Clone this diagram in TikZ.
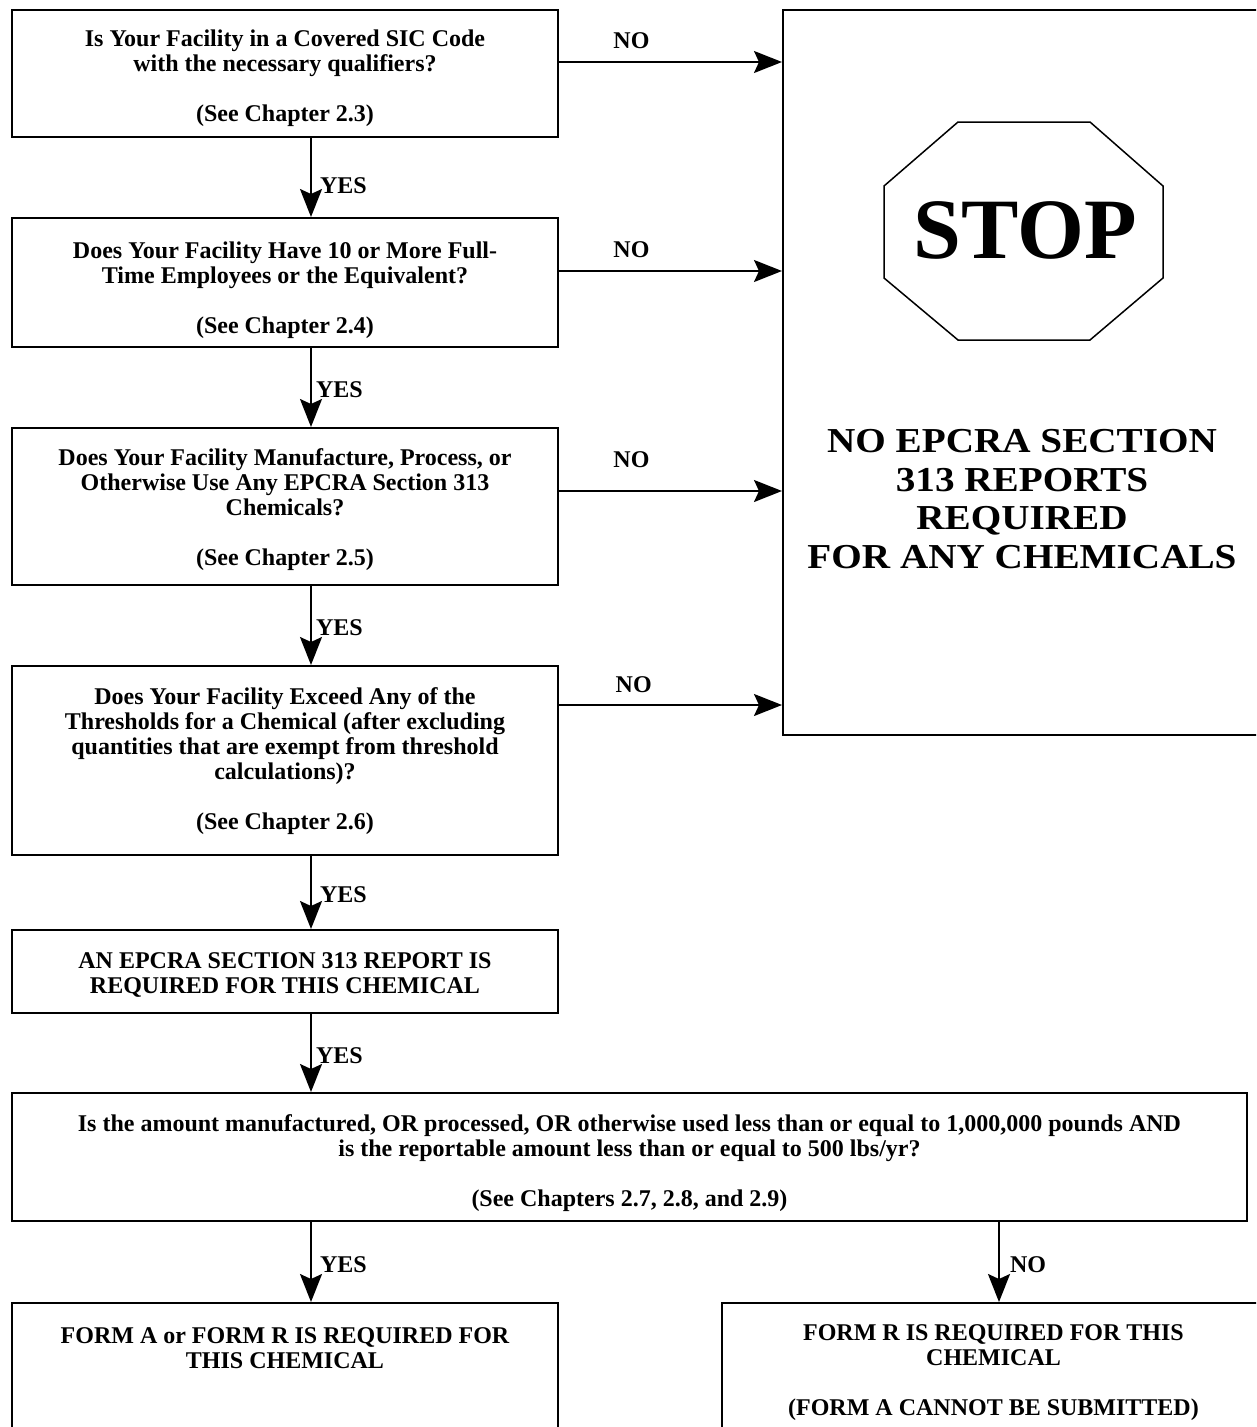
\documentclass[tikz,border=0pt]{standalone}
\usepackage{fontspec}
\setmainfont{Liberation Serif}
\newfontfamily\wideserif[FakeStretch=1.12]{Liberation Serif}
\usetikzlibrary{arrows.meta}
\newcommand{\dn}[1]{\rule{0pt}{\dimexpr 16pt + #1pt + #1pt\relax}}
\begin{document}
\begin{tikzpicture}[x=1pt,y=-1pt,
  txtfont/.style={font=\bfseries\fontsize{24}{25}\selectfont},
  box/.style={draw, line width=2pt, align=center, inner sep=0pt, txtfont},
  arr/.style={line width=2pt, -{Stealth[length=28pt,width=22pt,inset=5pt]}},
  lbl/.style={txtfont, inner sep=0pt}]
\useasboundingbox (0,0) rectangle (1256,1427);
\clip (0,0) rectangle (1256,1427);
\fill[white] (0,0) rectangle (1256,1427);

% boxes
\node[box, minimum width=546, minimum height=127] (b1) at (285,73.5)
  {\dn{5}Is Your Facility in a Covered SIC Code\\ with the necessary qualifiers?\\[25pt] (See Chapter 2.3)};
\node[box, minimum width=546, minimum height=129] (b2) at (285,282.5)
  {\dn{8}Does Your Facility Have 10 or More Full-\\ Time Employees or the Equivalent?\\[25pt] (See Chapter 2.4)};
\node[box, minimum width=546, minimum height=157] (b3) at (285,506.5)
  {\dn{4}Does Your Facility Manufacture, Process, or\\ Otherwise Use Any EPCRA Section 313\\ Chemicals?\\[25pt] (See Chapter 2.5)};
\node[box, minimum width=546, minimum height=189] (b4) at (285,760.5)
  {\dn{1}Does Your Facility Exceed Any of the\\ Thresholds for a Chemical (after excluding\\ quantities that are exempt from threshold\\ calculations)?\\[25pt] (See Chapter 2.6)};
\node[box, minimum width=546, minimum height=83] (b5) at (285,971.5)
  {\dn{3}AN EPCRA SECTION 313 REPORT IS\\ REQUIRED FOR THIS CHEMICAL};
\node[box, minimum width=1235, minimum height=128] (b6) at (629.5,1157)
  {\dn{7}Is the amount manufactured, OR processed, OR otherwise used less than or equal to 1,000,000 pounds AND\\ is the reportable amount less than or equal to 500 lbs/yr?\\[25pt] (See Chapters 2.7, 2.8, and 2.9)};
\node[box, minimum width=546, minimum height=134] (b7) at (285,1370)
  {\dn{3}FORM A or FORM R IS REQUIRED FOR\\ THIS CHEMICAL\\[25pt]\mbox{}};
\node[box, minimum width=543, minimum height=134] (b8) at (993.5,1370)
  {\dn{3}FORM R IS REQUIRED FOR THIS\\ CHEMICAL\\[25pt] (FORM A CANNOT BE SUBMITTED)};

% stop panel
\node[draw, line width=2pt, minimum width=492, minimum height=725] (stop) at (1029,372.5) {};
\draw[line width=1.5pt] (958,122) -- (1090,122) -- (1163,186) -- (1163,278) -- (1090,340)
  -- (958,340) -- (884,278) -- (884,186) -- cycle;
\node[inner sep=0pt, font=\bfseries\fontsize{86}{90}\selectfont] (stoptxt) at (1025,230) {STOP};
\node[inner sep=0pt, align=center, font=\wideserif\bfseries\fontsize{35}{38.5}\selectfont] (notxt) at (1022,499)
  {NO EPCRA SECTION\\ 313 REPORTS\\ REQUIRED\\ FOR ANY CHEMICALS};

% NO arrows
\draw[arr] (b1.east |- 0,62) -- node[lbl, pos=0.325, yshift=21pt] {NO} (stop.west |- 0,62);
\draw[arr] (b2.east |- 0,271) -- node[lbl, pos=0.325, yshift=21pt] {NO} (stop.west |- 0,271);
\draw[arr] (b3.east |- 0,491) -- node[lbl, pos=0.325, yshift=31pt] {NO} (stop.west |- 0,491);
\draw[arr] (b4.east |- 0,705) -- node[lbl, pos=0.335, yshift=20pt] {NO} (stop.west |- 0,705);

% YES arrows
\draw[arr] (b1.south -| 311,0) -- node[lbl, pos=0.6, anchor=west, xshift=8pt] {YES} (b2.north -| 311,0);
\draw[arr] (b2.south -| 311,0) -- node[lbl, pos=0.53, anchor=west, xshift=4pt] {YES} (b3.north -| 311,0);
\draw[arr] (b3.south -| 311,0) -- node[lbl, pos=0.53, anchor=west, xshift=4pt] {YES} (b4.north -| 311,0);
\draw[arr] (b4.south -| 311,0) -- node[lbl, pos=0.53, anchor=west, xshift=8pt] {YES} (b5.north -| 311,0);
\draw[arr] (b5.south -| 311,0) -- node[lbl, pos=0.53, anchor=west, xshift=4pt] {YES} (b6.north -| 311,0);
\draw[arr] (b6.south -| 311,0) -- node[lbl, pos=0.53, anchor=west, xshift=8pt] {YES} (b7.north -| 311,0);
\draw[arr] (b6.south -| 999,0) -- node[lbl, pos=0.53, anchor=west, xshift=10pt] {NO} (b8.north -| 999,0);
\end{tikzpicture}
\end{document}
